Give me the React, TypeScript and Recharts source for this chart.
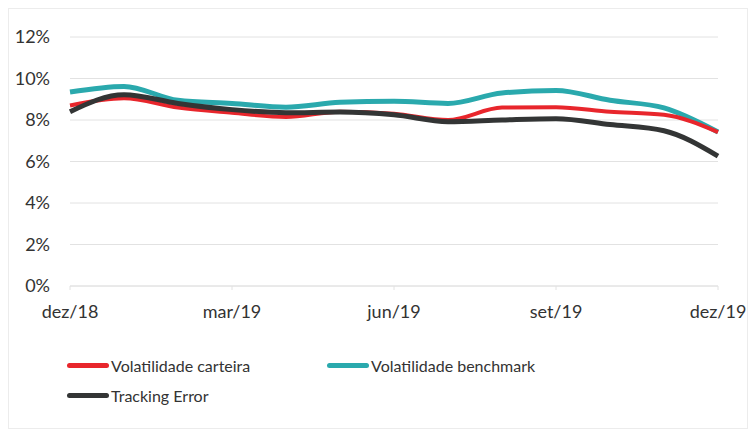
import React from 'react';
import { LineChart, Line, XAxis, YAxis, CartesianGrid } from 'recharts';

// monthly observations, dez/18 .. dez/19 (values in %)
const months = [
  'dez/18', 'jan/19', 'fev/19', 'mar/19', 'abr/19', 'mai/19', 'jun/19',
  'jul/19', 'ago/19', 'set/19', 'out/19', 'nov/19', 'dez/19',
];
const carteira = [8.7, 9.05, 8.6, 8.35, 8.15, 8.4, 8.3, 8.0, 8.6, 8.62, 8.4, 8.25, 7.42];
const benchmark = [9.35, 9.62, 8.95, 8.8, 8.62, 8.85, 8.9, 8.8, 9.3, 9.42, 8.95, 8.58, 7.42];
const trackingError = [8.4, 9.22, 8.8, 8.5, 8.35, 8.38, 8.25, 7.92, 8.0, 8.06, 7.78, 7.48, 6.26];
const xTicks = ['dez/18', 'mar/19', 'jun/19', 'set/19', 'dez/19'];
const yTicks = [0, 2, 4, 6, 8, 10, 12];

const data = months.map((m, i) => ({
  month: m,
  carteira: carteira[i],
  benchmark: benchmark[i],
  te: trackingError[i],
}));

const FONT = 'Lato, "Open Sans", sans-serif';
const TEXT = '#333333';

const legendItems = [
  { label: 'Volatilidade carteira', color: '#e8262c', left: 67, top: 356 },
  { label: 'Volatilidade benchmark', color: '#2aa9ad', left: 327, top: 356 },
  { label: 'Tracking Error', color: '#333535', left: 67, top: 386 },
];

export default function App() {
  return (
    <div style={{ position: 'absolute', left: 0, top: 0, width: 749, height: 430, background: '#fff' }}>
      <div
        style={{
          position: 'absolute',
          left: 8,
          top: 8,
          width: 740,
          height: 421,
          border: '1px solid #ececec',
          boxSizing: 'border-box',
        }}
      />
      <div style={{ position: 'absolute', left: 0, top: 0 }}>
        <LineChart
          width={749}
          height={430}
          data={data}
          margin={{ top: 37, right: 31, left: 0, bottom: 114 }}
        >
          <CartesianGrid vertical={false} stroke="#e2e2e2" />
          <XAxis
            dataKey="month"
            ticks={xTicks}
            interval={0}
            height={30}
            axisLine={{ stroke: '#e2e2e2' }}
            tickLine={{ stroke: '#e2e2e2' }}
            tickSize={4}
            tickMargin={15}
            tick={{ fill: TEXT, fontSize: 18, fontFamily: FONT }}
          />
          <YAxis
            domain={[0, 12]}
            ticks={yTicks}
            width={70}
            axisLine={false}
            tickLine={false}
            tickSize={0}
            tickMargin={20}
            tickFormatter={(v) => `${v}%`}
            tick={{ fill: TEXT, fontSize: 18, fontFamily: FONT }}
          />
          <Line type="monotone" dataKey="benchmark" stroke="#2aa9ad" strokeWidth={5} dot={false} isAnimationActive={false} />
          <Line type="monotone" dataKey="carteira" stroke="#e8262c" strokeWidth={4} dot={false} isAnimationActive={false} />
          <Line type="monotone" dataKey="te" stroke="#333535" strokeWidth={5} dot={false} isAnimationActive={false} />
        </LineChart>
      </div>
      {legendItems.map((it) => (
        <div
          key={it.label}
          style={{
            position: 'absolute',
            left: it.left,
            top: it.top,
            display: 'flex',
            alignItems: 'center',
            fontFamily: FONT,
            fontSize: 16,
            color: TEXT,
            whiteSpace: 'nowrap',
          }}
        >
          <span
            style={{
              display: 'inline-block',
              width: 42,
              height: 5,
              borderRadius: 3,
              background: it.color,
              marginRight: 2,
            }}
          />
          {it.label}
        </div>
      ))}
    </div>
  );
}
